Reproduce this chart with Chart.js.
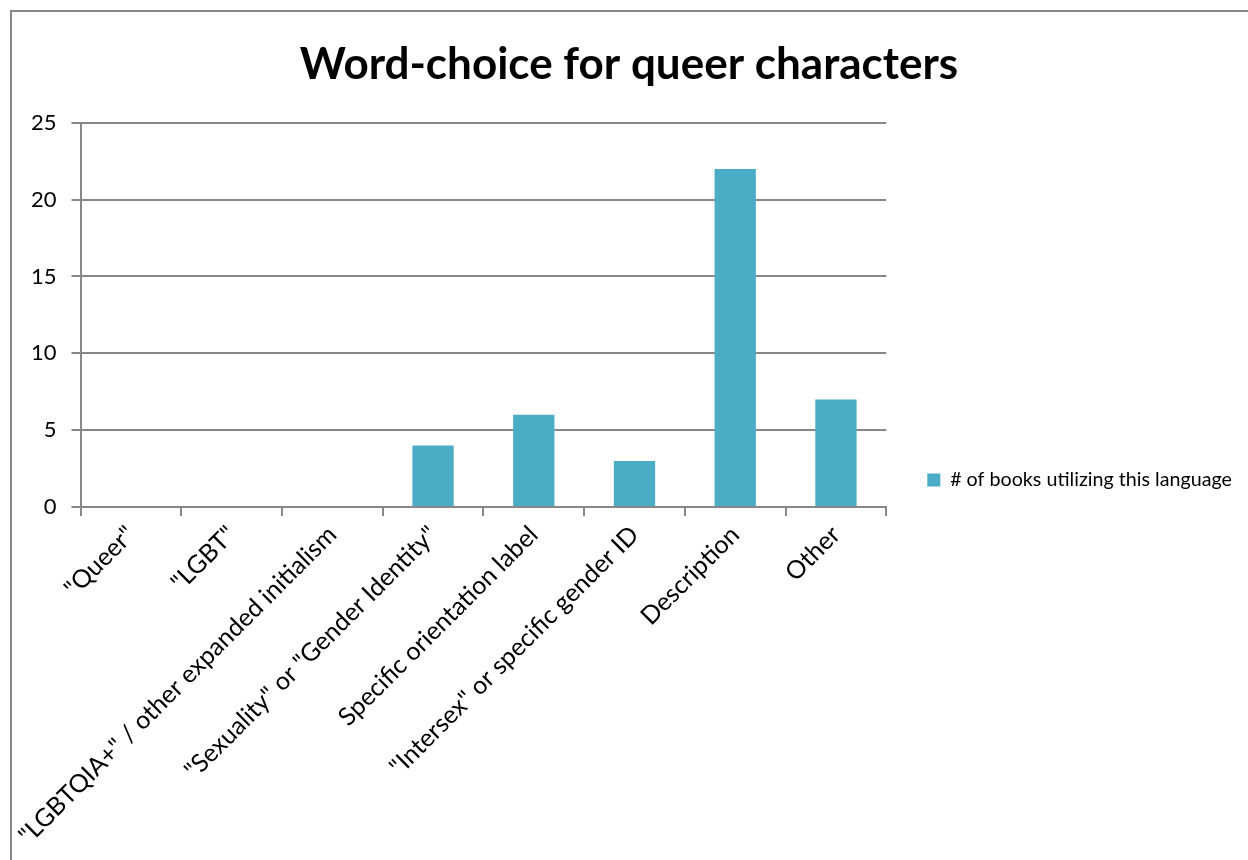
<!DOCTYPE html>
<html>
<head>
<meta charset="utf-8">
<script src="https://cdn.jsdelivr.net/npm/chart.js@4/dist/chart.umd.min.js"></script>
<style>
  html, body { margin: 0; padding: 0; background: #fff; overflow: hidden; width: 1248px; height: 860px; }
  #frame { position: absolute; left: 10px; top: 10px; border-left: 2px solid #888; border-top: 2px solid #888; }
  canvas { display: block; }
</style>
</head>
<body>
<div id="frame"><canvas id="c" width="1246" height="936"></canvas></div>
<script>
const categories = ['"Queer"', '"LGBT"', '"LGBTQIA+" / other expanded initialism', '"Sexuality" or "Gender Identity"', 'Specific orientation label', '"Intersex" or specific gender ID', 'Description', 'Other'];
const seriesName = '# of books utilizing this language';
const bookCounts = [0, 0, 0, 4, 6, 3, 22, 7];
const yTicks = [0, 5, 10, 15, 20, 25];
const chartTitle = 'Word-choice for queer characters';

const FONT = 'Lato, "Open Sans", sans-serif';
const GRID = '#888888';

new Chart(document.getElementById('c'), {
  type: 'bar',
  data: {
    labels: categories,
    datasets: [{
      label: seriesName,
      data: bookCounts,
      backgroundColor: '#4BACC6',
      borderWidth: 0,
      barPercentage: 0.41,
      categoryPercentage: 1.0
    }]
  },
  options: {
    responsive: false,
    animation: false,
    devicePixelRatio: 1,
    layout: { padding: { left: 4, right: 16, top: 0, bottom: 0 } },
    plugins: {
      title: {
        display: true,
        text: chartTitle,
        color: '#000',
        font: { family: FONT, size: 44, weight: 'bold' },
        padding: { top: 26, bottom: 32 }
      },
      legend: {
        display: true,
        position: 'right',
        align: 'center',
        maxWidth: 420,
        labels: {
          color: '#000',
          font: { family: FONT, size: 19.7 },
          boxWidth: 13,
          boxHeight: 13,
          padding: 41
        }
      },
      tooltip: { enabled: false }
    },
    scales: {
      x: {
        afterFit: (s) => { s.height = 441; },
        grid: { display: true, drawOnChartArea: false, drawTicks: true, tickLength: 9, offset: true, color: GRID, lineWidth: 2 },
        border: { display: true, color: GRID, width: 2 },
        ticks: {
          color: '#000',
          font: { family: FONT, size: 25 },
          autoSkip: false,
          maxRotation: 45,
          minRotation: 45,
          padding: 4
        }
      },
      y: {
        min: 0,
        max: 25,
        afterBuildTicks: (axis) => { axis.ticks = yTicks.map(v => ({ value: v })); },
        grid: { display: true, drawOnChartArea: true, drawTicks: true, tickLength: 9, color: GRID, lineWidth: 2 },
        border: { display: true, color: GRID, width: 2 },
        ticks: {
          color: '#000',
          font: { family: FONT, size: 22 },
          padding: 15
        }
      }
    }
  }
});
</script>
</body>
</html>
